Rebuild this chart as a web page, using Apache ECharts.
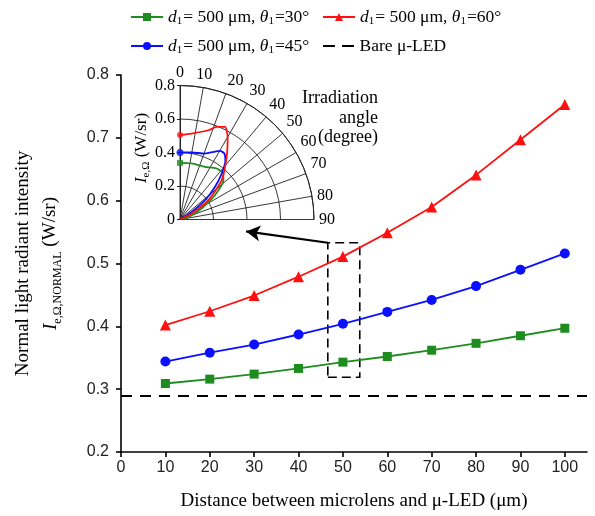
<!DOCTYPE html>
<html>
<head>
<meta charset="utf-8">
<script src="https://cdn.jsdelivr.net/npm/echarts@6/dist/echarts.min.js"></script>
<style>html,body{margin:0;padding:0;background:#fff;}#c{width:595px;height:516px;}</style>
</head>
<body>
<div id="c"></div>
<script>
// ---- data ----
const xValues = [10, 20, 30, 40, 50, 60, 70, 80, 90, 100];
const theta30 = [0.309, 0.316, 0.324, 0.333, 0.343, 0.352, 0.362, 0.373, 0.385, 0.397];
const theta45 = [0.344, 0.358, 0.371, 0.387, 0.404, 0.423, 0.442, 0.464, 0.490, 0.516];
const theta60 = [0.402, 0.424, 0.449, 0.479, 0.511, 0.549, 0.590, 0.641, 0.697, 0.753];
const bareValue = 0.293;
const xTickLabels = [0, 10, 20, 30, 40, 50, 60, 70, 80, 90, 100];
const yTickLabels = [0.2, 0.3, 0.4, 0.5, 0.6, 0.7, 0.8];
// highlighted region (x range, y range) and arrow target
const boxX = [46.6, 53.8];
const boxY = [0.319, 0.533];
const arrowTo = [28.2, 0.551];
// inset polar curves: [angle (deg), intensity (W/sr)]
const polar30 = [[0,0.338],[11.8,0.342],[25.4,0.348],[35.7,0.375],[43.3,0.377],[47.8,0.350],[55.2,0.254],[63.1,0.145],[73,0.054],[75,0]];
const polar45 = [[0,0.400],[9.9,0.406],[20.7,0.421],[30.2,0.474],[33.9,0.475],[37.4,0.446],[42.2,0.371],[47,0.285],[52.3,0.189],[57,0.083],[60,0]];
const polar60 = [[0,0.505],[7.7,0.518],[17.6,0.559],[21.6,0.595],[25.9,0.615],[30,0.569],[36.7,0.466],[46.7,0.342],[55.8,0.205],[62.9,0.078],[70,0]];

const names = {
  s30: 'd1=500um theta1=30',
  s45: 'd1=500um theta1=45',
  s60: 'd1=500um theta1=60',
  bare: 'Bare μ-LED'
};
const labelText = {
  [names.s30]: '{i|d}{s|1}{n|= 500 μm, }{i|θ}{s|1}{n|=30°}',
  [names.s45]: '{i|d}{s|1}{n|= 500 μm, }{i|θ}{s|1}{n|=45°}',
  [names.s60]: '{i|d}{s|1}{n|= 500 μm, }{i|θ}{s|1}{n|=60°}',
  [names.bare]: '{n|Bare μ-LED}'
};
const GREEN = '#1e8c1e', BLUE = '#0a10ff', RED = '#ff1010';
const SERIF = '"Liberation Serif", "Times New Roman", serif';
const SANS = '"Liberation Sans", Arial, sans-serif';
const rich = {
  n: {fontFamily: SERIF, fontSize: 17.5, color: '#000', lineHeight: 20},
  i: {fontFamily: SERIF, fontSize: 17.5, fontStyle: 'italic', color: '#000', lineHeight: 20},
  s: {fontFamily: SERIF, fontSize: 11, color: '#000', verticalAlign: 'bottom', lineHeight: 11, padding: [0, 1, 0, 0]}
};
function legendAt(name, left, top, extra) {
  return Object.assign({
    data: [name], left: left, top: top, itemWidth: 32, itemHeight: 10, itemGap: 6,
    formatter: n => labelText[n], textStyle: {rich: rich}, selectedMode: false
  }, extra || {});
}
const pair = arr => xValues.map((x, i) => [x, arr[i]]);
const toPolar = arr => arr.map(p => [p[1], p[0]]);

const chart = echarts.init(document.getElementById('c'), null, {renderer: 'canvas'});
chart.setOption({
  animation: false,
  backgroundColor: '#fff',
  legend: [
    legendAt(names.s30, 125, 3),
    legendAt(names.s60, 317, 3),
    legendAt(names.s45, 125, 32),
    legendAt(names.bare, 318, 32, {
      itemHeight: 2, itemWidth: 32,
      data: [{name: names.bare, icon: 'path://M0,0L12,0L12,2L0,2Z M19,0L31,0L31,2L19,2Z'}],
      itemStyle: {color: '#000'}
    })
  ],
  grid: {left: 121, right: 8, top: 75, bottom: 63},
  xAxis: {
    type: 'value', min: 0, max: 105,
    axisLine: {lineStyle: {color: '#000', width: 1.6}},
    axisTick: {length: 5, lineStyle: {color: '#000', width: 1.6}, customValues: xTickLabels},
    axisLabel: {customValues: xTickLabels, fontFamily: SANS, fontSize: 16, color: '#222', margin: 8},
    splitLine: {show: false},
    name: 'Distance between microlens and μ-LED (μm)',
    nameLocation: 'middle', nameGap: 40,
    nameTextStyle: {fontFamily: SERIF, fontSize: 19, color: '#000'}
  },
  yAxis: {
    type: 'value', min: 0.2, max: 0.8, interval: 0.1,
    axisLine: {show: true, lineStyle: {color: '#000', width: 1.6}},
    axisTick: {show: true, length: 5, lineStyle: {color: '#000', width: 1.6}},
    axisLabel: {fontFamily: SANS, fontSize: 16, color: '#222', margin: 12,
      formatter: v => yTickLabels.indexOf(Math.round(v*10)/10) >= 0 ? v.toFixed(1) : ''},
    splitLine: {show: false},
    name: '{n|Normal light radiant intensity}\n{i|I}{s|e,Ω,NORMAL}{n| (W/sr)}',
    nameLocation: 'middle', nameGap: 57, nameRotate: 90,
    nameTextStyle: {rich: {
      n: {fontFamily: SERIF, fontSize: 19, color: '#000', lineHeight: 27},
      i: {fontFamily: SERIF, fontSize: 19, fontStyle: 'italic', color: '#000', lineHeight: 27},
      s: {fontFamily: SERIF, fontSize: 12, color: '#000', verticalAlign: 'bottom', lineHeight: 14}
    }}
  },
  polar: {center: [180, 219.5], radius: 134},
  angleAxis: {
    type: 'value', min: 0, max: 90, interval: 10,
    startAngle: 90, endAngle: 0, clockwise: true,
    axisLine: {lineStyle: {color: '#222', width: 1}},
    axisTick: {show: false},
    axisLabel: {fontFamily: SERIF, fontSize: 16, color: '#000', margin: 5},
    splitLine: {show: true, lineStyle: {color: '#222', width: 0.9}}
  },
  radiusAxis: {
    type: 'value', min: 0, max: 0.8, interval: 0.2,
    axisLine: {lineStyle: {color: '#222', width: 1}},
    axisTick: {show: true, length: 3, lineStyle: {color: '#222'}},
    axisLabel: {fontFamily: SERIF, fontSize: 16, color: '#000', margin: 5,
      formatter: v => v === 0 ? '0' : v.toFixed(1)},
    splitLine: {show: true, lineStyle: {color: '#222', width: 0.9}}
  },
  graphic: [
    {type: 'text', x: 378, y: 89, style: {
      text: 'Irradiation\nangle\n(degree)', fontFamily: SERIF, fontSize: 18, fill: '#000',
      align: 'right', lineHeight: 19.5}},
    {type: 'text', x: 142, y: 148, rotation: Math.PI/2, style: {
      text: '{i|I}{s|e,Ω}{n| (W/sr)}', align: 'center', verticalAlign: 'middle',
      rich: {
        n: {fontFamily: SERIF, fontSize: 17, color: '#000', lineHeight: 20},
        i: {fontFamily: SERIF, fontSize: 17, fontStyle: 'italic', color: '#000', lineHeight: 20},
        s: {fontFamily: SERIF, fontSize: 11, color: '#000', verticalAlign: 'bottom', lineHeight: 12}
      }}}
  ],
  series: [
    {name: names.s30, type: 'line', data: pair(theta30), symbol: 'rect', symbolSize: 9,
      lineStyle: {color: GREEN, width: 1.8}, itemStyle: {color: GREEN}, z: 3},
    {name: names.s60, type: 'line', data: pair(theta60), symbol: 'triangle', symbolSize: 11,
      lineStyle: {color: RED, width: 1.8}, itemStyle: {color: RED}, z: 3},
    {name: names.s45, type: 'line', data: pair(theta45), symbol: 'circle', symbolSize: 10,
      lineStyle: {color: BLUE, width: 1.8}, itemStyle: {color: BLUE}, z: 3},
    {name: names.bare, type: 'line', data: [], symbol: 'none',
      lineStyle: {color: '#000', width: 1.8, type: [10, 7]}, itemStyle: {color: '#000'},
      markLine: {silent: true, symbol: ['none', 'none'], label: {show: false},
        lineStyle: {color: '#000', width: 1.8, type: [11, 8]},
        data: [{yAxis: bareValue}]},
      markArea: {silent: true, itemStyle: {color: 'rgba(0,0,0,0)', borderColor: '#000', borderWidth: 1.6, borderType: [9, 5]},
        data: [[{coord: [boxX[0], boxY[0]]}, {coord: [boxX[1], boxY[1]]}]]}
    },
    {type: 'line', data: [], symbol: 'none',
      markLine: {silent: true, symbol: ['none', 'arrow'], symbolSize: [12, 14], label: {show: false},
        lineStyle: {color: '#000', width: 2.2, type: 'solid'},
        data: [[{coord: [boxX[0], boxY[1]]}, {coord: arrowTo}]]}},
    {type: 'line', coordinateSystem: 'polar', data: toPolar(polar30), smooth: 0.2, symbol: 'none',
      lineStyle: {color: GREEN, width: 1.8}, z: 5},
    {type: 'line', coordinateSystem: 'polar', data: toPolar(polar45), smooth: 0.2, symbol: 'none',
      lineStyle: {color: BLUE, width: 1.8}, z: 5},
    {type: 'line', coordinateSystem: 'polar', data: toPolar(polar60), smooth: 0.2, symbol: 'none',
      lineStyle: {color: RED, width: 1.8}, z: 5},
    {type: 'scatter', coordinateSystem: 'polar', data: [[polar30[0][1], 0]], symbol: 'rect', symbolSize: 6, itemStyle: {color: GREEN}, z: 6},
    {type: 'scatter', coordinateSystem: 'polar', data: [[polar45[0][1], 0]], symbol: 'circle', symbolSize: 7, itemStyle: {color: BLUE}, z: 6},
    {type: 'scatter', coordinateSystem: 'polar', data: [[polar60[0][1], 0]], symbol: 'circle', symbolSize: 6, itemStyle: {color: RED}, z: 6}
  ]
});
</script>
</body>
</html>
